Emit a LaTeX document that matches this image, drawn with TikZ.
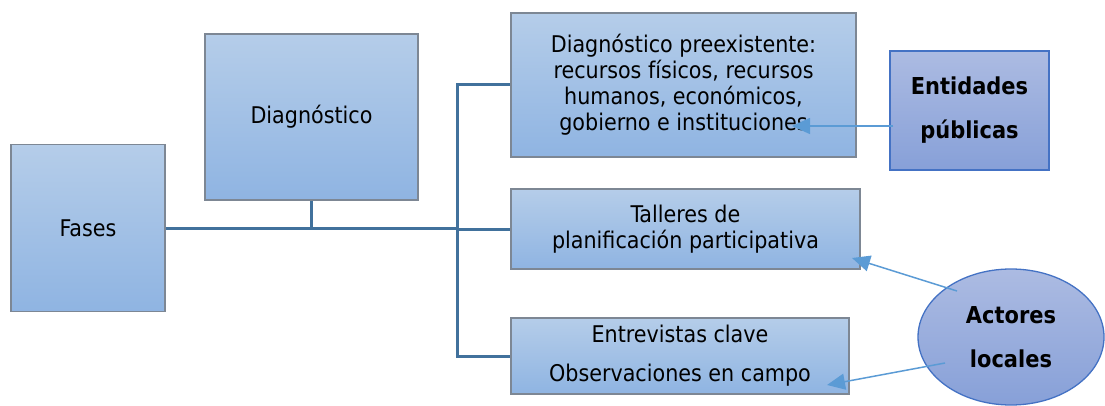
\documentclass[tikz,border=0pt]{standalone}
\usepackage{fontspec}
\setmainfont{DejaVu Sans Condensed}
\usetikzlibrary{arrows.meta,shapes.geometric}
\definecolor{boxtop}{RGB}{181,205,233}
\definecolor{boxbot}{RGB}{143,180,226}
\definecolor{boxline}{RGB}{125,135,148}
\definecolor{pubtop}{RGB}{172,187,226}
\definecolor{pubbot}{RGB}{135,160,216}
\definecolor{publine}{RGB}{68,114,196}
\definecolor{connc}{RGB}{65,113,156}
\definecolor{arrc}{RGB}{91,155,213}
\tikzset{
  x=1pt, y=-1pt,
  phase/.style={draw=boxline, line width=1.3pt, top color=boxtop, bottom color=boxbot,
    rectangle, inner sep=0pt, align=center, font=\fontsize{23}{26}\selectfont},
  actor/.style={draw=publine, line width=1.3pt, top color=pubtop, bottom color=pubbot,
    inner sep=0pt, align=center, font=\fontsize{23.3}{44}\selectfont\bfseries},
  conn/.style={draw=connc, line width=3pt},
  arr/.style={draw=arrc, line width=1.5pt, -{Triangle[length=18pt,width=16pt]}}
}
\begin{document}
\begin{tikzpicture}
\useasboundingbox (0,0) rectangle (1105,406);
\node[phase, minimum width=154pt, minimum height=167pt] (fases) at (88,228) {Fases};
\node[phase, minimum width=213pt, minimum height=166pt] (diag) at (311.5,117) {Diagnóstico};
\node[phase, minimum width=345pt, minimum height=144pt] (b1) at (683.5,85)
  {Diagnóstico preexistente:\\recursos físicos, recursos\\humanos, económicos,\\gobierno e instituciones};
\node[phase, minimum width=349pt, minimum height=80pt] (b2) at (685.5,229)
  {Talleres de\\planificación participativa};
\node[phase, minimum width=338pt, minimum height=76pt, font=\fontsize{23}{39}\selectfont] (b3) at (680,356)
  {Entrevistas clave\\Observaciones en campo};
\node[actor, rectangle, minimum width=159pt, minimum height=119pt] (ent) at (969.5,110.5)
  {Entidades\\públicas};
\node[actor, ellipse, minimum width=186pt, minimum height=136pt] (act) at (1011,337)
  {Actores\\locales};
\coordinate (tk) at (457,0);
\draw[conn] (fases.east) -- (fases.east -| tk);
\draw[conn] (diag.south) -- (diag.south |- fases.east);
\draw[conn] (b1.west) -| (tk |- b3.west) -- (b3.west);
\draw[conn] (tk |- b2.west) -- (b2.west);
\coordinate (e1) at (792,126);
\coordinate (s2) at (957,291);
\coordinate (e2) at (852,258);
\coordinate (s3) at (945,363);
\coordinate (e3) at (827,385);
\draw[arr] ([xshift=4pt]ent.west |- e1) -- (e1);
\draw[arr] (s2) -- (e2);
\draw[arr] (s3) -- (e3);
\end{tikzpicture}
\end{document}
